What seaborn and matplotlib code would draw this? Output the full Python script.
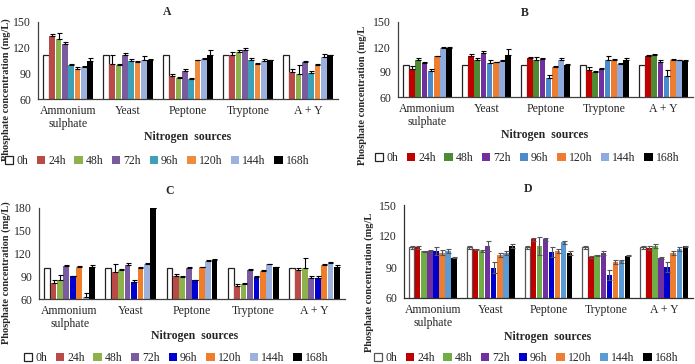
import numpy as np
import pandas as pd
import seaborn as sns
import matplotlib
matplotlib.use("Agg")
import matplotlib.pyplot as plt
from matplotlib.container import BarContainer

sns.set_style("white")
plt.rcParams['font.family'] = ['Liberation Serif', 'DejaVu Serif']

sources = ["Ammonium\nsulphate", "Yeast", "Peptone", "Tryptone", "A + Y"]
hours = ["0h", "24h", "48h", "72h", "96h", "120h", "144h", "168h"]

# ---- Panel A (rows = hours, cols = sources)
A_vals = [[112, 112, 112, 112, 112],
          [133.5, 100.5, 86.8, 112, 91.5],
          [129.7, 100, 85, 114.5, 88.8],
          [124.6, 111.7, 92.7, 117.6, 102.8],
          [99.7, 104, 83.3, 105, 90.4],
          [94.6, 103.6, 105, 100.8, 99.7],
          [97.4, 105, 106.3, 104.4, 108.6],
          [104, 105, 111, 105.5, 111]]
A_err = [[0, 0, 0, 0, 0],
         [2, 11, 2, 3, 4],
         [8, 1, 1, 3, 11],
         [1.5, 2, 2, 2, 2],
         [1, 3, 1, 3, 2],
         [3, 0.5, 1, 1, 1],
         [1, 5, 2, 2, 4],
         [4, 2, 6, 0.5, 1]]

# ---- Panel B
B_vals = [[98.4, 98.4, 98.4, 98.4, 98.4],
          [94, 108.8, 106.4, 92, 108.8],
          [104.8, 104.8, 104.8, 89.6, 110.8],
          [100.8, 113.2, 106, 93.6, 101.6],
          [91.2, 101.2, 83.2, 104.8, 85.6],
          [108.8, 101.6, 96, 104.8, 104.8],
          [118.8, 103.6, 104.8, 99.2, 104.4],
          [118.4, 110.8, 98.8, 104, 103.2]]
B_err = [[0, 0, 0, 0, 0],
         [3, 3, 2, 4, 2],
         [2, 1.5, 3, 2, 1],
         [1, 2, 1, 1, 3],
         [3, 3, 3, 5, 7],
         [1, 1, 1, 1, 1],
         [1, 1, 2, 2, 0.5],
         [1, 7, 1, 3, 1]]

# ---- Panel C
C_vals = [[101, 101, 101, 101, 101],
          [81.6, 96, 90.9, 77.4, 98.8],
          [84.7, 98, 89.6, 79.6, 101.5],
          [103.2, 105, 101.5, 98, 87.8],
          [90.4, 82, 84.7, 88.7, 87.8],
          [102.3, 101.5, 102.3, 97.4, 105],
          [63, 105.9, 110, 105.5, 107.2],
          [102.8, 180, 111.3, 102.3, 102.8]]
C_err = [[0, 0, 0, 0, 0],
         [3, 10, 2, 2, 2],
         [7, 1, 1, 2, 12],
         [1, 3, 1, 2, 2],
         [0.5, 3, 1, 2, 2],
         [1, 1, 0.5, 0.5, 1],
         [5, 2, 1, 0.5, 1],
         [2, 0, 2, 0.5, 2]]

# ---- Panel D
D_vals = [[109, 109, 109, 109, 109],
          [109, 107.4, 116.8, 100, 108.4],
          [105.2, 105.5, 110.3, 101.3, 110],
          [105.2, 110.6, 116.8, 103.2, 98.4],
          [105.5, 89.4, 104.8, 82, 90],
          [104, 101.6, 105.5, 95.2, 103.5],
          [105.5, 103.2, 113.9, 95.5, 107.7],
          [99, 110, 103.5, 101, 110.3]]
D_err = [[1.5, 1.5, 1.5, 1.5, 1.5],
         [1.5, 0.5, 1.5, 1, 2],
         [0.5, 0.5, 9, 0.5, 2],
         [1.5, 5, 1.5, 2, 1],
         [4, 5, 5, 5, 5],
         [2, 2, 2, 2, 2],
         [1.5, 2, 1.5, 1.5, 2],
         [0.5, 2, 2, 0.5, 0.5]]

pal_A = ["#FFFFFF", "#B94A48", "#8DB24C", "#7B5BA0", "#3BA0B8", "#EE8B3C", "#9CB2DD", "#000000"]
pal_B = ["#FFFFFF", "#C00000", "#4F8B35", "#7030A0", "#4C8BCB", "#ED7D31", "#8FAADC", "#000000"]
pal_C = ["#FFFFFF", "#B94A48", "#8DB24C", "#7B5BA0", "#0000D0", "#F07D2A", "#9CB2DD", "#000000"]
pal_D = ["#FFFFFF", "#C00000", "#70AD47", "#7030A0", "#0000CC", "#ED7D31", "#5B9BD5", "#000000"]

W, H = 695, 364
fig = plt.figure(figsize=(W / 100, H / 100), dpi=100)


def px_rect(l, r, t, b):
    return [l / W, 1 - b / H, (r - l) / W, (b - t) / H]


panels = [
    dict(name="A", vals=A_vals, err=A_err, pal=pal_A, rect=px_rect(38, 338, 22, 99),
         ylim=(60, 150), yticks=[60, 90, 120, 150], title=(167, 12), ylab=(6, 90),
         ylabtxt="Phosphate concentration (mg/L)", xlab=(188, 137), leg=(157, 161),
         two=False, ecol="#000000", spine="#404040"),
    dict(name="B", vals=B_vals, err=B_err, pal=pal_B, rect=px_rect(398, 693, 22, 97),
         ylim=(60, 150), yticks=[60, 90, 120, 150], title=(525, 13), ylab=(362, 95),
         ylabtxt="Phosphate concentration (mg/L", xlab=(545, 135), leg=(527, 158),
         two=False, ecol="#000000", spine="#404040"),
    dict(name="C", vals=C_vals, err=C_err, pal=pal_C, rect=px_rect(39, 345, 208, 299),
         ylim=(60, 180), yticks=[60, 90, 120, 150, 180], title=(170, 191), ylab=(6, 273),
         ylabtxt="Phosphate concentration (mg/L)", xlab=(195, 336), leg=(176, 358),
         two=False, ecol="#000000", spine="#404040"),
    dict(name="D", vals=D_vals, err=D_err, pal=pal_D, rect=px_rect(404, 693, 205, 298),
         ylim=(60, 150), yticks=[60, 90, 120, 150], title=(528, 189), ylab=(369, 282),
         ylabtxt="Phosphate concentration (mg/L", xlab=(548, 337), leg=(526, 358),
         two=True, ecol="#555555", spine="#303030"),
]

for p in panels:
    rows = []
    for hi, h in enumerate(hours):
        for si, s in enumerate(sources):
            rows.append(dict(source=s, hour=h, value=p["vals"][hi][si]))
    df = pd.DataFrame(rows)
    ax = fig.add_axes(p["rect"])
    sns.barplot(data=df, x="source", y="value", hue="hour", order=sources,
                hue_order=hours, palette=p["pal"], errorbar=None, gap=0.1,
                width=0.84, legend=False, ax=ax, linewidth=0, saturation=1)
    bar_conts = [c for c in ax.containers if isinstance(c, BarContainer)]
    for hi, cont in enumerate(bar_conts):
        xs, ys = [], []
        for bar in cont.patches:
            xs.append(bar.get_x() + bar.get_width() / 2)
            ys.append(bar.get_height())
            if hi == 0:
                bar.set_edgecolor("#222222" if p["name"] != "D" else "#555555")
                bar.set_linewidth(0.9)
        e = np.array(p["err"][hi], dtype=float)
        if np.any(e > 0):
            lower = e if p["two"] else np.zeros_like(e)
            ax.errorbar(xs, ys, yerr=[lower, e], fmt="none", ecolor=p["ecol"],
                        elinewidth=0.8, capsize=1.8, capthick=0.8, zorder=5)
    ax.set_ylim(*p["ylim"])
    ax.set_yticks(p["yticks"])
    ax.set_xlim(-0.5, 4.5)
    ax.set_xticks(range(len(sources)))
    ax.set_xticklabels(sources, fontsize=8.5, linespacing=1.15)
    ax.set_xticks(np.arange(-0.5, 5, 1), minor=True)
    ax.tick_params(axis="x", which="major", length=0, pad=4)
    ax.tick_params(axis="x", which="minor", length=4, width=0.8, color=p["spine"], direction="out")
    ax.tick_params(axis="y", length=3, width=0.8, color=p["spine"], labelsize=8.5, pad=2, direction="out")
    ax.set_xlabel("")
    ax.set_ylabel("")
    for sname in ["top", "right"]:
        ax.spines[sname].set_visible(False)
    for sname in ["left", "bottom"]:
        ax.spines[sname].set_color(p["spine"])
        ax.spines[sname].set_linewidth(0.9)
    ax.set_facecolor("white")

    fig.text(p["title"][0] / W, 1 - p["title"][1] / H, p["name"], ha="center", va="center",
             fontsize=8.5, fontweight="bold")
    fig.text(p["ylab"][0] / W, 1 - p["ylab"][1] / H, p["ylabtxt"], ha="center", va="center",
             rotation=90, fontsize=7.5, fontweight="bold")
    fig.text(p["xlab"][0] / W, 1 - p["xlab"][1] / H, "Nitrogen  sources", ha="center",
             va="center", fontsize=8.5, fontweight="bold")
    handles = [c.patches[0] for c in bar_conts]
    fig.legend(handles, hours, loc="center", bbox_to_anchor=(p["leg"][0] / W, 1 - p["leg"][1] / H),
               ncol=8, frameon=False, fontsize=8.5, handlelength=0.7, handleheight=0.7,
               handletextpad=0.25, columnspacing=0.75, borderpad=0, borderaxespad=0)

fig.savefig("out.png", dpi=100, facecolor="white")
